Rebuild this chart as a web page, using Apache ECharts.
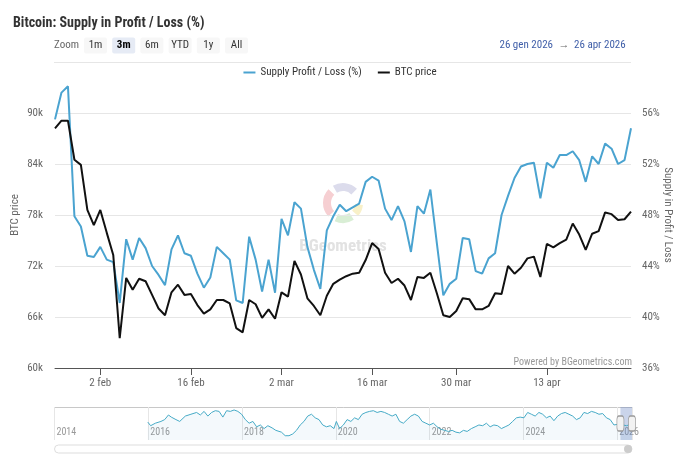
<!DOCTYPE html>
<html><head><meta charset="utf-8">
<script src="https://cdn.jsdelivr.net/npm/echarts@6/dist/echarts.min.js"></script>
<style>html,body{margin:0;padding:0;background:#fff}#c{width:680px;height:467px}</style>
</head><body><div id="c"></div>
<script>
// ---- data ----
const dates = ['01-26','01-27','01-28','01-29','01-30','01-31',
'02-01','02-02','02-03','02-04','02-05','02-06','02-07','02-08','02-09','02-10','02-11','02-12','02-13','02-14',
'02-15','02-16','02-17','02-18','02-19','02-20','02-21','02-22','02-23','02-24','02-25','02-26','02-27','02-28',
'03-01','03-02','03-03','03-04','03-05','03-06','03-07','03-08','03-09','03-10','03-11','03-12','03-13','03-14',
'03-15','03-16','03-17','03-18','03-19','03-20','03-21','03-22','03-23','03-24','03-25','03-26','03-27','03-28',
'03-30','03-31',
'04-01','04-02','04-03','04-04','04-05','04-06','04-07','04-08','04-09','04-10','04-11','04-12','04-13','04-14',
'04-15','04-16','04-17','04-18','04-19','04-20','04-21','04-22','04-23','04-24','04-25','04-26'];
const tickDates = ['02-02','02-16','03-02','03-16','03-30','04-13'];
const tickTexts = ['2 feb','16 feb','2 mar','16 mar','30 mar','13 apr'];
const supplyProfit = [55.5,57.6,58.1,47.9,47.1,44.8,44.7,45.5,44.5,44.3,41.1,46.1,44.5,46.2,45.4,
44.0,43.3,42.5,45.3,46.4,45.0,44.8,43.4,42.3,43.1,45.5,45.0,44.5,41.3,41.1,
46.3,44.5,42.0,44.5,41.9,47.7,46.4,49.0,48.5,45.5,43.7,42.2,46.8,47.9,48.8,
48.3,48.6,48.9,50.6,51.0,50.7,48.5,47.6,48.7,47.5,45.1,48.7,48.1,50.0,45.8,
41.7,42.6,43.0,46.2,46.1,43.6,43.4,44.6,45.0,48.0,49.5,50.9,51.8,52.0,52.1,
49.3,52.1,51.7,52.7,52.7,53.0,52.3,50.6,52.6,52.0,53.6,53.2,52.0,52.3,54.8];
const btcPrice = [88200,89100,89100,84500,83900,78600,76800,78600,75900,73300,63500,70600,69200,70500,70200,
68600,67000,66200,68900,69800,68600,68700,67400,66400,66900,68000,68000,67600,64700,64200,
68000,67500,65900,66900,65800,68900,68400,72600,71000,68200,67300,66200,68500,69900,70400,
70800,71100,71200,72700,74700,74000,71200,70000,70500,69700,68000,70700,70600,71200,68800,
66200,66000,66700,68200,68100,66900,66900,67300,68800,68700,72000,71100,71800,72900,73100,
70700,74600,74200,74700,75100,77000,75700,73900,75800,76100,78300,78100,77400,77500,78400];
const navYears = [2015.99,2016.05,2016.15,2016.27,2016.35,2016.43,2016.49,2016.59,2016.67,2016.79,2016.91,
2017.03,2017.11,2017.19,2017.27,2017.35,2017.43,2017.51,2017.59,2017.67,2017.75,2017.83,2017.91,2017.99,
2018.07,2018.15,2018.23,2018.31,2018.39,2018.47,2018.55,2018.64,2018.72,2018.84,2018.92,2019.00,
2019.08,2019.16,2019.24,2019.32,2019.40,2019.48,2019.56,2019.64,2019.72,2019.80,2019.88,2019.96,
2020.01,2020.08,2020.16,2020.24,2020.32,2020.40,2020.48,2020.56,2020.64,2020.72,2020.80,2020.88,2020.96,
2021.04,2021.12,2021.20,2021.28,2021.36,2021.44,2021.52,2021.60,2021.68,2021.76,2021.84,2021.92,
2022.00,2022.08,2022.16,2022.24,2022.32,2022.40,2022.48,2022.56,2022.64,2022.72,2022.80,2022.89,2022.97,
2023.05,2023.13,2023.21,2023.29,2023.37,2023.45,2023.53,2023.61,2023.69,2023.77,2023.85,2023.93,
2024.01,2024.09,2024.17,2024.25,2024.33,2024.41,2024.49,2024.57,2024.65,2024.73,2024.81,2024.89,2024.97,
2025.05,2025.13,2025.21,2025.29,2025.37,2025.45,2025.53,2025.61,2025.69,2025.77,2025.85,2025.93,2026.01,
2026.10,2026.20,2026.31];
const navSupply = [73.3,66.0,71.1,74.7,78.4,87.8,83.5,78.4,74.7,85.6,89.3,
92.9,87.8,95.1,85.6,92.9,96.5,95.1,83.5,96.5,95.1,98.0,95.1,89.3,
78.4,71.1,74.7,63.8,67.5,60.2,66.0,61.6,56.6,52.9,45.7,45.7,
49.3,56.6,67.5,74.7,85.6,89.3,82.0,78.4,67.5,63.8,66.0,60.2,
74.7,60.2,67.5,78.4,74.7,82.0,78.4,89.3,92.9,95.1,96.5,92.9,95.1,
92.9,89.3,85.6,89.3,74.7,71.1,78.4,85.6,89.3,85.6,74.7,71.1,
67.5,71.1,63.8,58.7,56.6,54.4,56.6,52.9,51.5,56.6,54.4,60.2,63.8,
67.5,66.0,71.1,63.8,67.5,66.0,60.2,63.8,67.5,74.7,82.0,83.5,
82.0,92.9,89.3,85.6,92.9,89.3,82.0,85.6,76.2,85.6,90.7,92.9,89.3,
85.6,78.4,82.0,92.9,90.7,95.1,92.9,89.3,90.7,82.0,78.4,67.5,68.9,
68.0,66.0,70.0];
const navRange = [2026.068, 2026.315];
const rangeButtons = ['1m','3m','6m','YTD','1y','All'];
const selectedRange = '3m';

// ---- chart ----
const F = "'Liberation Sans Narrow','Roboto Condensed',Roboto,sans-serif";
const font = (size, weight) => (weight ? weight + ' ' : '') + size + 'px ' + F;
const isTick = (i, v) => tickDates.indexOf(v) >= 0;

const graphics = [];
graphics.push({type:'line', shape:{x1:54, y1:62.5, x2:631, y2:62.5}, style:{stroke:'#e6e6e6', lineWidth:1}});
graphics.push({type:'text', x:54, y:45.5, style:{text:'Zoom', font:font(11), fill:'#666', verticalAlign:'middle'}});
rangeButtons.forEach((b, i) => {
  const x0 = 84 + i * 28.2, sel = b === selectedRange;
  graphics.push({type:'rect', shape:{x:x0, y:37.5, width:23, height:16, r:2}, style:{fill: sel ? '#e6ebf5' : '#f7f7f7'}});
  graphics.push({type:'text', x:x0 + 11.5, y:45.5, style:{text:b, font:font(11, sel ? 'bold' : ''), fill: sel ? '#000' : '#333', align:'center', verticalAlign:'middle'}});
});
graphics.push({type:'text', x:553, y:45.5, style:{text:'26 gen 2026', font:font(11), fill:'#3f5ea8', align:'right', verticalAlign:'middle'}});
graphics.push({type:'text', x:564, y:45.5, style:{text:'→', font:font(11), fill:'#666', align:'center', verticalAlign:'middle'}});
graphics.push({type:'text', x:574, y:45.5, style:{text:'26 apr 2026', font:font(11), fill:'#3f5ea8', align:'left', verticalAlign:'middle'}});
// axis titles
graphics.push({type:'text', x:15, y:215, rotation:Math.PI/2, style:{text:'BTC price', font:font(11), fill:'#666', align:'center', verticalAlign:'middle'}});
graphics.push({type:'text', x:668, y:215, rotation:-Math.PI/2, style:{text:'Supply in Profit / Loss', font:font(11), fill:'#666', align:'center', verticalAlign:'middle'}});
// watermark
const wm = [['#dcdcec',-2.1,-0.8],['#f6cfd2',2.4,3.9],['#d9eed5',1.0,2.0],['#f8f0c8',0.1,0.7]];
wm.forEach(a => graphics.push({type:'arc', z:0, shape:{cx:343, cy:203, r:16, startAngle:a[1], endAngle:a[2], clockwise:true}, style:{stroke:a[0], lineWidth:8, fill:null}}));
graphics.push({type:'text', z:0, x:343, y:247, style:{text:'BGeometrics', font:font(17,'bold'), fill:'#e2e2e2', align:'center', verticalAlign:'middle'}});
graphics.push({type:'text', x:632, y:362, style:{text:'Powered by BGeometrics.com', font:font(10), fill:'#999', align:'right', verticalAlign:'middle'}});
// navigator outline and scrollbar
graphics.push({type:'line', shape:{x1:54.5, y1:407.5, x2:632, y2:407.5}, style:{stroke:'#c8c8c8', lineWidth:1}});
graphics.push({type:'rect', shape:{x:54.5, y:445, width:577.5, height:8, r:4}, style:{fill:'#fff', stroke:'#dddddd', lineWidth:1}});
graphics.push({type:'circle', shape:{cx:628, cy:449, r:4}, style:{fill:'#cccccc'}});

const option = {
  animation: false,
  textStyle: {fontFamily: F},
  title: {text:'Bitcoin: Supply in Profit / Loss (%)', left:8, top:11, textStyle:{fontSize:14, fontWeight:'bold', color:'#333', fontFamily:F}},
  legend: {data:['Supply Profit / Loss (%)','BTC price'], top:62, left:'center', icon:'rect', itemWidth:12, itemHeight:2, itemGap:16,
    textStyle:{fontSize:11, color:'#333', fontFamily:F}},
  graphic: graphics,
  grid: [
    {left:55, right:49, top:113, bottom:99},
    {left:54.5, right:48, top:407, height:33}
  ],
  xAxis: [
    {type:'category', gridIndex:0, data:dates, boundaryGap:false,
     axisLine:{lineStyle:{color:'#555', width:1}},
     axisTick:{show:true, interval:isTick, length:7, lineStyle:{color:'#555'}},
     axisLabel:{interval:isTick, formatter:v => tickTexts[tickDates.indexOf(v)], color:'#666', fontSize:11, margin:10},
     splitLine:{show:false}},
    {type:'value', gridIndex:1, min:2014, max:navRange[1], interval:2,
     axisLine:{show:false}, axisTick:{show:false},
     axisLabel:{inside:true, color:'#999', fontSize:10, align:'left', margin:3, padding:[0,0,0,2], showMaxLabel:false,
       formatter:v => Number.isInteger(v) ? String(v) : ''},
     splitLine:{show:true, lineStyle:{color:'#e6e6e6'}}}
  ],
  yAxis: [
    {type:'value', gridIndex:0, position:'left', min:60000, max:90000, interval:6000,
     axisLine:{show:false}, axisTick:{show:false},
     axisLabel:{formatter:v => (v/1000) + 'k', color:'#666', fontSize:11, margin:12, padding:[0,0,6,0]},
     splitLine:{lineStyle:{color:'#e6e6e6'}}},
    {type:'value', gridIndex:0, position:'right', min:36, max:56, interval:4,
     axisLine:{show:false}, axisTick:{show:false},
     axisLabel:{formatter:'{value}%', color:'#666', fontSize:11, margin:11, padding:[0,0,6,0]},
     splitLine:{show:false}},
    {type:'value', gridIndex:1, min:37, max:104, show:false}
  ],
  series: [
    {name:'Supply Profit / Loss (%)', type:'line', xAxisIndex:0, yAxisIndex:1, data:supplyProfit,
     showSymbol:false, clip:false, color:'#4aa3d0', lineStyle:{width:2, color:'#4aa3d0'}, z:3},
    {name:'BTC price', type:'line', xAxisIndex:0, yAxisIndex:0, data:btcPrice,
     showSymbol:false, clip:false, color:'#111', lineStyle:{width:2, color:'#111'}, z:4},
    {name:'nav', type:'line', xAxisIndex:1, yAxisIndex:2, data:navYears.map((y,i)=>[y, navSupply[i]]),
     showSymbol:false, silent:true, lineStyle:{width:1, color:'#45aac6'}, color:'#45aac6',
     areaStyle:{color:'rgba(74,163,208,0.09)'},
     markArea:{silent:true, itemStyle:{color:'rgba(102,133,194,0.35)'}, data:[[{xAxis:navRange[0]},{xAxis:navRange[1]}]]},
     markPoint:{silent:true, symbol:'roundRect', symbolSize:[7,15], label:{show:false},
       itemStyle:{color:'#f2f2f2', borderColor:'#999', borderWidth:1},
       data:[{coord:[navRange[0],70.5]},{coord:[navRange[1],70.5]}]}}
  ]
};
const chart = echarts.init(document.getElementById('c'));
chart.setOption(option);
</script>
</body></html>
